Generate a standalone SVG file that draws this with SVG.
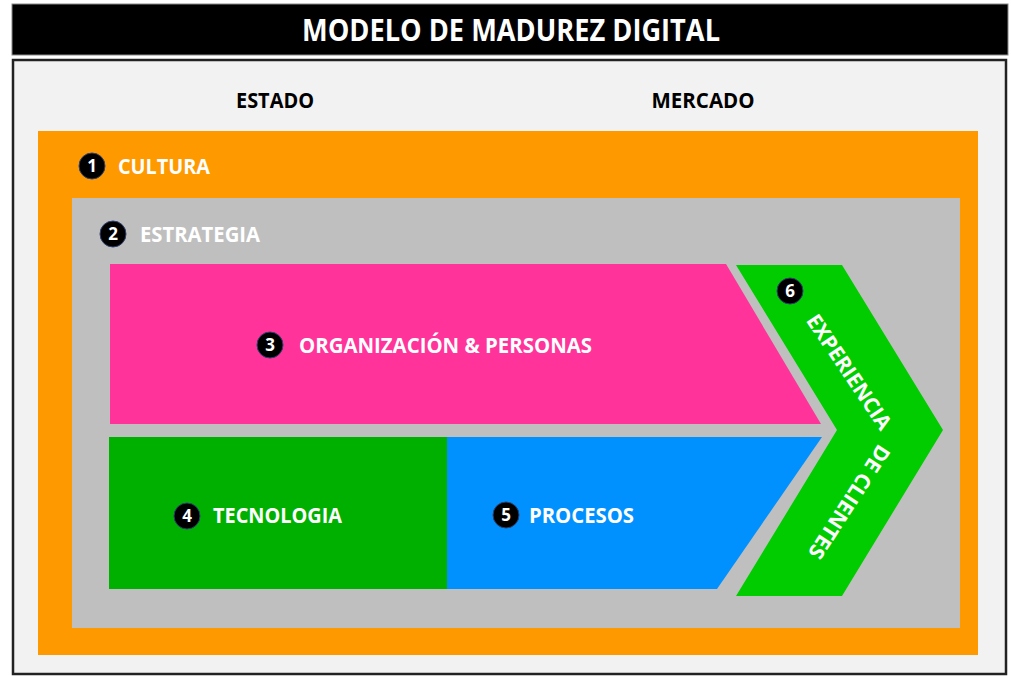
<svg xmlns="http://www.w3.org/2000/svg" width="1011" height="676" viewBox="0 0 1011 676">
<style>
text{font-family:"Open Sans","Liberation Sans",sans-serif;font-weight:700}
.lbl{fill:#fff;font-size:21px}
.hdr{fill:#000;font-size:21px;text-anchor:middle}
.num{fill:#fff;font-size:17px;text-anchor:middle}
.badge{fill:#000;stroke:#2f3f6f;stroke-width:1}
</style>
<rect x="0" y="0" width="1011" height="676" fill="#fff"/>
<g id="title">
<rect x="12" y="4" width="996" height="51" fill="#000" stroke="#888" stroke-width="1"/>
<text x="511" y="41" fill="#fff" font-size="30" text-anchor="middle" textLength="418" lengthAdjust="spacingAndGlyphs">MODELO DE MADUREZ DIGITAL</text>
</g>
<g id="frame">
<rect x="13" y="60" width="993" height="614" fill="#f2f2f2" stroke="#222" stroke-width="2.5"/>
<text class="hdr" x="275" y="108" textLength="78" lengthAdjust="spacingAndGlyphs">ESTADO</text>
<text class="hdr" x="703" y="108" textLength="103" lengthAdjust="spacingAndGlyphs">MERCADO</text>
</g>
<g id="cultura">
<rect x="38" y="131" width="940" height="524" fill="#ff9900"/>
<circle class="badge" cx="92" cy="166" r="13"/>
<text class="num" x="92" y="172">1</text>
<text class="lbl" x="118" y="174" textLength="92" lengthAdjust="spacingAndGlyphs">CULTURA</text>
</g>
<g id="estrategia">
<rect x="72" y="198" width="888" height="430" fill="#bfbfbf"/>
<circle class="badge" cx="113" cy="234" r="13"/>
<text class="num" x="113" y="240">2</text>
<text class="lbl" x="140" y="242" textLength="120" lengthAdjust="spacingAndGlyphs">ESTRATEGIA</text>
</g>
<g id="organizacion">
<polygon points="110,264 726,264 821,424 110,424" fill="#ff3399"/>
<circle class="badge" cx="270" cy="345" r="13"/>
<text class="num" x="270" y="351">3</text>
<text class="lbl" x="299" y="353" textLength="293" lengthAdjust="spacingAndGlyphs">ORGANIZACIÓN &amp; PERSONAS</text>
</g>
<g id="tecnologia">
<rect x="109" y="437" width="338" height="152" fill="#00b000"/>
<circle class="badge" cx="187" cy="516" r="13"/>
<text class="num" x="187" y="522">4</text>
<text class="lbl" x="213" y="523" textLength="129" lengthAdjust="spacingAndGlyphs">TECNOLOGIA</text>
</g>
<g id="procesos">
<polygon points="447,437 822,437 717,589 447,589" fill="#0091ff"/>
<circle class="badge" cx="506" cy="515" r="13"/>
<text class="num" x="506" y="521">5</text>
<text class="lbl" x="529" y="523" textLength="105" lengthAdjust="spacingAndGlyphs">PROCESOS</text>
</g>
<g id="experiencia">
<polygon points="736,265 842,265 943,430 842,596 736,596 837,430" fill="#00cc00"/>
<circle class="badge" cx="790" cy="291" r="13"/>
<text class="num" x="790" y="297">6</text>
<text class="lbl" font-size="20" text-anchor="middle" transform="translate(843,376) rotate(56)" textLength="134" lengthAdjust="spacingAndGlyphs">EXPERIENCIA</text>
<text class="lbl" font-size="20" text-anchor="middle" transform="translate(843,498) rotate(123)" textLength="131" lengthAdjust="spacingAndGlyphs">DE CLIENTES</text>
</g>
<g id="connectors"></g>
</svg>
